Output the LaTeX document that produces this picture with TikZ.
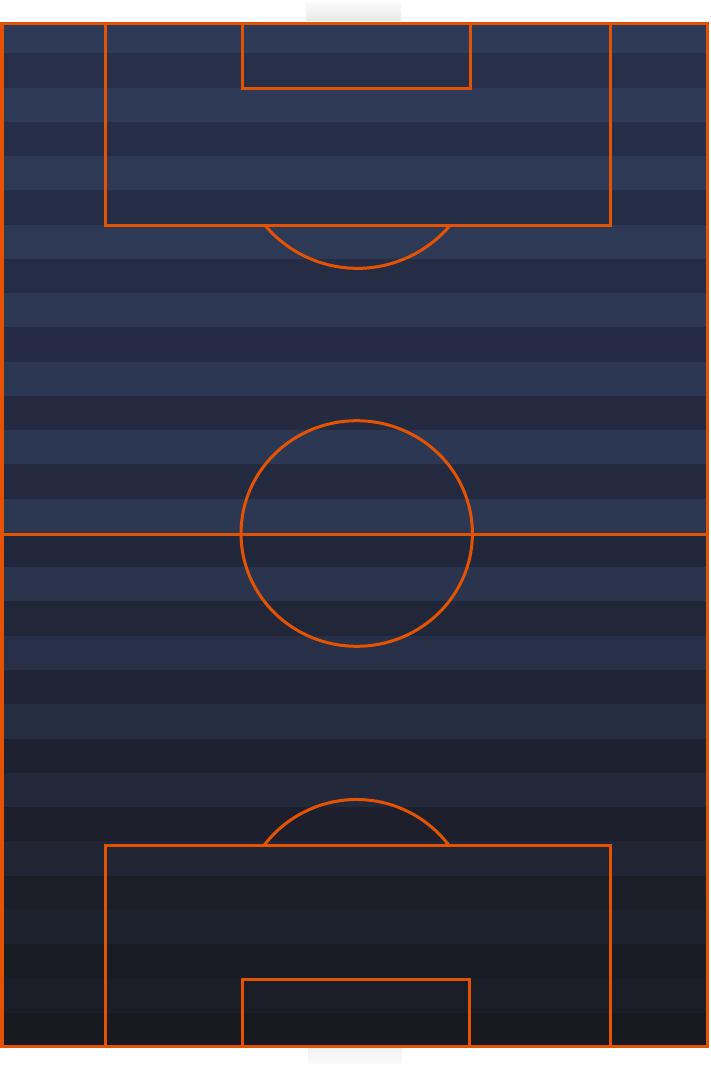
\documentclass[tikz,border=0pt]{standalone}
\usetikzlibrary{calc}
\definecolor{pitchline}{RGB}{228,82,4}
\definecolor{tabtop}{RGB}{250,250,250}
\definecolor{tabbot}{RGB}{232,232,232}
\tikzset{
  fieldline/.style={draw=pitchline, line width=3pt, line join=miter},
  borderline/.style={draw=pitchline, line width=3.6pt, line join=miter},
}
\begin{document}
\begin{tikzpicture}[x=1pt,y=1pt]
\useasboundingbox (0,0) rectangle (710,-1067);
% goal tabs
\shade[top color=tabtop, bottom color=tabbot] (306,-3) rectangle (401,-20.5);
\shade[top color=tabbot!60!white, bottom color=tabtop] (308,-1048) rectangle (402,-1063);
% stripes
\begin{scope}
\clip (1.8,-23.5) rectangle (707.6,-1046.6);
\foreach \k in {0,...,29}{
  \pgfmathsetmacro{\ya}{19.04+34.26*\k}
  \pgfmathsetmacro{\yb}{\ya+34.26}
  \pgfmathsetmacro{\t}{(\k+0.5)/30}
  \ifodd\k
    % dark band
    \pgfmathsetmacro{\s}{\t<0.5 ? \t*2 : (\t-0.5)*2}
    \pgfmathtruncatemacro{\r}{\t<0.5 ? 40+(35-40)*\s : 35+(25-35)*\s}
    \pgfmathtruncatemacro{\g}{\t<0.5 ? 49+(41-49)*\s : 41+(26-41)*\s}
    \pgfmathtruncatemacro{\b}{\t<0.5 ? 74+(62-74)*\s : 62+(31-62)*\s}
  \else
    \pgfmathsetmacro{\s}{\t<0.5 ? \t*2 : (\t-0.5)*2}
    \pgfmathtruncatemacro{\r}{\t<0.5 ? 47+(44-47)*\s : 44+(27-44)*\s}
    \pgfmathtruncatemacro{\g}{\t<0.5 ? 59+(55-59)*\s : 55+(28-55)*\s}
    \pgfmathtruncatemacro{\b}{\t<0.5 ? 88+(82-88)*\s : 82+(35-82)*\s}
  \fi
  \definecolor{bandc}{RGB}{\r,\g,\b}
  \fill[bandc] (0,-\ya) rectangle (710,-\yb);
}
\end{scope}
% halfway line and centre circle
\draw[fieldline] (1.8,-534) -- (707.6,-534);
\draw[fieldline] (356.7,-533.5) ellipse [x radius=115.7, y radius=112.8];
% top penalty area, goal area, arc
\draw[fieldline] (105,-23.5) -- (105,-225.3) -- (610.5,-225.3) -- (610.5,-23.5);
\draw[fieldline] (242.5,-23.5) -- (242.5,-89) -- (470.8,-89) -- (470.8,-23.5);
\draw[fieldline] (265,-225.3) arc[start angle=220.1, end angle=319.9, radius=121];
% bottom penalty area, goal area, arc
\draw[fieldline] (105.5,-1046.6) -- (105.5,-845.5) -- (610.5,-845.5) -- (610.5,-1046.6);
\draw[fieldline] (242,-1046.6) -- (242,-979.5) -- (469.7,-979.5) -- (469.7,-1046.6);
\draw[fieldline] (449,-845.5) arc[start angle=37.1, end angle=142.9, radius=116];
% outer border
\draw[borderline] (1.8,-23.5) rectangle (707.6,-1046.6);
\end{tikzpicture}
\end{document}
